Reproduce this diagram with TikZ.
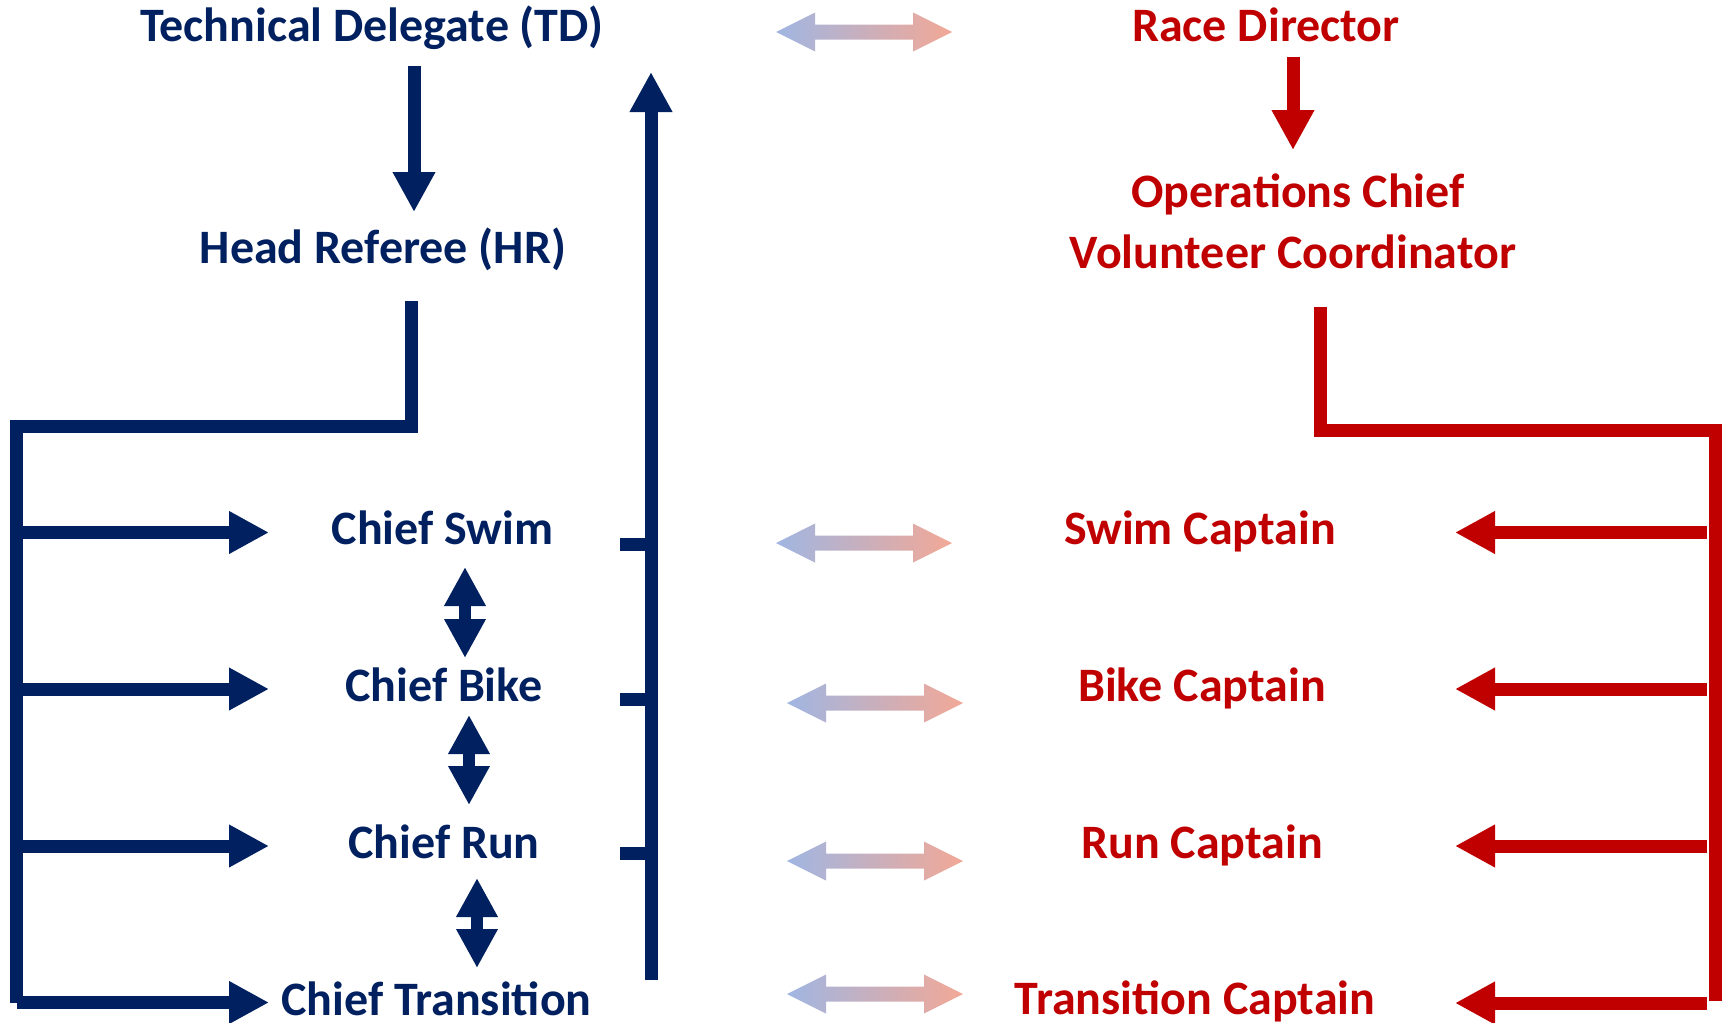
\documentclass[tikz,border=0pt]{standalone}
\usepackage{fontspec}
\setmainfont{Carlito}
\usetikzlibrary{arrows.meta}
\definecolor{navy}{HTML}{002060}
\definecolor{rred}{HTML}{C00000}
\definecolor{gblue}{RGB}{160,182,226}
\definecolor{gred}{RGB}{242,168,150}
\begin{document}
\begin{tikzpicture}[x=0.5pt,y=-0.5pt,
 lbl/.style={font=\fontsize{24}{29}\selectfont\bfseries, anchor=base, inner sep=0pt, text depth=0pt},
 bl/.style={lbl, text=navy},
 rd/.style={lbl, text=rred},
 navyline/.style={draw=navy, line width=6.5pt, line join=miter},
 redline/.style={draw=rred, line width=6.5pt, line join=miter},
 tipend/.style={-{Triangle[length=20pt,width=20pt]}},
 dtip/.style={{Triangle[length=19.5pt,width=19.5pt]}-{Triangle[length=19.5pt,width=19.5pt]}},
 garrow/.pic={\path[left color=gblue, right color=gred]
   (-88,0) -- (-49,-19.5) -- (-49,-7.5) -- (49,-7.5) -- (49,-19.5) -- (88,0)
   -- (49,19.5) -- (49,7.5) -- (-49,7.5) -- (-49,19.5) -- cycle;}]
\useasboundingbox (0,0) rectangle (1731,1023);

% labels
\node[bl] (td) at (372,41) {Technical Delegate (TD)};
\node[bl] (hr) at (383,263) {Head Referee (HR)};
\node[rd] (rdir) at (1266,41) {Race Director};
\node[rd] (ops) at (1298,207) {Operations Chief};
\node[rd] (vol) at (1293,268) {Volunteer Coordinator};
\node[bl] (cs) at (442.5,544) {Chief Swim};
\node[bl] (cb) at (444,701) {Chief Bike};
\node[bl] (cr) at (444,858) {Chief Run};
\node[bl] (ct) at (436.5,1015) {Chief Transition};
\node[rd] (sc) at (1200,544) {Swim Captain};
\node[rd] (bc) at (1202,701) {Bike Captain};
\node[rd] (rc) at (1202,858) {Run Captain};
\node[rd] (tc) at (1195,1014) {Transition Captain};

% coordinates
\coordinate (tdS) at (414,66);
\coordinate (hrN) at (414,212);
\coordinate (hrS) at (411,301);
\coordinate (hrC) at (411,426);
\coordinate (lC) at (16.5,426);
\coordinate (lB) at (16.5,1002.5);
\coordinate (csW) at (269,532.5);
\coordinate (cbW) at (269,689);
\coordinate (crW) at (269,846);
\coordinate (ctW) at (269,1002.5);
\coordinate (bigB) at (651,980);
\coordinate (bigT) at (651,72);
\coordinate (rdS) at (1293,57);
\coordinate (opsN) at (1293,150);
\coordinate (volS) at (1320.5,307);
\coordinate (volC) at (1320.5,430.5);
\coordinate (rC) at (1715.5,430.5);
\coordinate (rB) at (1715.5,1001);
\coordinate (scE) at (1455,532.5);
\coordinate (bcE) at (1455,689);
\coordinate (rcE) at (1455,846);
\coordinate (tcE) at (1455,1003);

% navy connectors
\draw[navyline, tipend] (tdS) -- (hrN);
\draw[navyline] (hrS) -- (hrC) -- (lC) -- (lB);
\draw[navyline, tipend] (lC |- csW) -- (csW);
\draw[navyline, tipend] (lC |- cbW) -- (cbW);
\draw[navyline, tipend] (lC |- crW) -- (crW);
\draw[navyline, tipend] (lB) -- (ctW);
\draw[navyline, tipend] (bigB) -- (bigT);
\draw[navyline] (620,544.5) -- (bigB |- 0,544.5);
\draw[navyline] (620,699) -- (bigB |- 0,699);
\draw[navyline] (620,853) -- (bigB |- 0,853);
\draw[navyline, line width=6pt, dtip] (465,567) -- (465,658);
\draw[navyline, line width=6pt, dtip] (469,715) -- (469,805);
\draw[navyline, line width=6pt, dtip] (477,878) -- (477,968);

% red connectors
\draw[redline, tipend] (rdS) -- (opsN);
\draw[redline] (volS) -- (volC) -- (rC) -- (rB);
\draw[redline, tipend] (1707,532.5) -- (scE);
\draw[redline, tipend] (1707,689) -- (bcE);
\draw[redline, tipend] (1707,846) -- (rcE);
\draw[redline, tipend] (1707,1003) -- (tcE);

% gradient double arrows
\pic (g1) at (864,32) {garrow};
\pic (g2) at (864,543) {garrow};
\pic (g3) at (875,703) {garrow};
\pic (g4) at (875,861) {garrow};
\pic (g5) at (875,994) {garrow};
\end{tikzpicture}
\end{document}
